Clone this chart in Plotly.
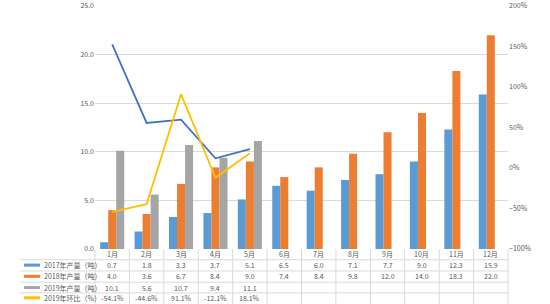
import plotly.graph_objects as go

months = ["1月", "2月", "3月", "4月", "5月", "6月", "7月", "8月", "9月", "10月", "11月", "12月"]
prod_2017 = [0.7, 1.8, 3.3, 3.7, 5.1, 6.5, 6.0, 7.1, 7.7, 9.0, 12.3, 15.9]
prod_2018 = [4.0, 3.6, 6.7, 8.4, 9.0, 7.4, 8.4, 9.8, 12.0, 14.0, 18.3, 22.0]
prod_2019 = [10.1, 5.6, 10.7, 9.4, 11.1, None, None, None, None, None, None, None]
yoy_2019 = [1.525, 0.556, 0.597, 0.119, 0.233, None, None, None, None, None, None, None]
mom_2019 = [-0.541, -0.446, 0.911, -0.121, 0.181, None, None, None, None, None, None, None]

names = ["2017年产量（吨）", "2018年产量（吨）", "2019年产量（吨）", "2019年环比（%）"]
colors = ["#5B9BD5", "#ED7D31", "#A5A5A5", "#FFC000"]
line_blue = "#4472C4"

W, H = 550, 304
L, R, T, B = 95, 42, 0, 55
plot_h = H - T - B
plot_w = W - L - R

def py2paper(py):
    return (H - B - py) / plot_h

def px2paper(px):
    return (px - L) / plot_w

FONT = "Noto Sans CJK SC, Noto Sans, sans-serif"
TXT = "#595959"

fig = go.Figure()
for vals, nm, c in zip([prod_2017, prod_2018, prod_2019], names[:3], colors[:3]):
    fig.add_trace(go.Bar(x=months, y=vals, name=nm, marker=dict(color=c, line=dict(width=0))))

fig.add_trace(go.Scatter(x=months, y=yoy_2019, name="2019年同比（%）", mode="lines",
                         line=dict(color=line_blue, width=1.8), yaxis="y2"))
fig.add_trace(go.Scatter(x=months, y=mom_2019, name=names[3], mode="lines",
                         line=dict(color=colors[3], width=1.8), yaxis="y2"))

shapes = []
annotations = []
grid_c = "#D9D9D9"

# table geometry
row_centers = [254.5, 265.5, 277, 288.5, 299]
row_borders = [249, 260, 271.5, 283, 294]
for yb in row_borders[1:]:
    shapes.append(dict(type="line", xref="paper", yref="paper", x0=px2paper(20), x1=1,
                       y0=py2paper(yb), y1=py2paper(yb), line=dict(color=grid_c, width=1)))
for i in range(13):
    shapes.append(dict(type="line", xref="paper", yref="paper", x0=i / 12, x1=i / 12,
                       y0=py2paper(249), y1=py2paper(310), line=dict(color=grid_c, width=1)))

# header months
for i, m in enumerate(months):
    annotations.append(dict(xref="paper", yref="paper", x=(i + 0.5) / 12, y=py2paper(row_centers[0]),
                            xanchor="center", yanchor="middle",
                            text=m, showarrow=False, font=dict(size=7, color=TXT, family=FONT)))

rows = [prod_2017, prod_2018, prod_2019, mom_2019]
for r, (vals, nm, c) in enumerate(zip(rows, names, colors)):
    yc = py2paper(row_centers[r + 1])
    shapes.append(dict(type="line", xref="paper", yref="paper", x0=px2paper(24), x1=px2paper(40),
                       y0=yc, y1=yc, line=dict(color=c, width=3)))
    annotations.append(dict(xref="paper", yref="paper", x=px2paper(42), y=yc, xanchor="left",
                            yanchor="middle",
                            text=nm, showarrow=False, font=dict(size=7, color=TXT, family=FONT)))
    for i, v in enumerate(vals):
        if v is None:
            continue
        t = f"{v * 100:.1f}%" if r == 3 else f"{v:.1f}"
        annotations.append(dict(xref="paper", yref="paper", x=(i + 0.5) / 12, y=yc,
                                xanchor="center", yanchor="middle",
                                text=t, showarrow=False, font=dict(size=7, color=TXT, family=FONT)))

fig.update_layout(
    width=W, height=H,
    margin=dict(l=L, r=R, t=T, b=B, pad=0),
    paper_bgcolor="white", plot_bgcolor="white",
    barmode="group", bargap=0.3, bargroupgap=0,
    showlegend=False,
    font=dict(family=FONT, size=7, color=TXT),
    xaxis=dict(type="category", showticklabels=False, showgrid=False, zeroline=False,
               showline=False, ticks="", range=[-0.5, 11.5]),
    yaxis=dict(range=[0, 25], dtick=5, tickformat=".1f", showgrid=True, gridcolor=grid_c,
               gridwidth=1, zeroline=False, showline=False, ticks="",
               ticklabeloverflow="allow",
               tickfont=dict(size=7, color=TXT)),
    yaxis2=dict(range=[-1, 2], dtick=0.5, tickformat=".0%", overlaying="y", side="right",
                showgrid=False, zeroline=False, showline=False, ticks="",
                ticklabeloverflow="allow",
                tickfont=dict(size=7, color=TXT)),
    shapes=shapes,
    annotations=annotations,
)

fig.write_html("out.html")
